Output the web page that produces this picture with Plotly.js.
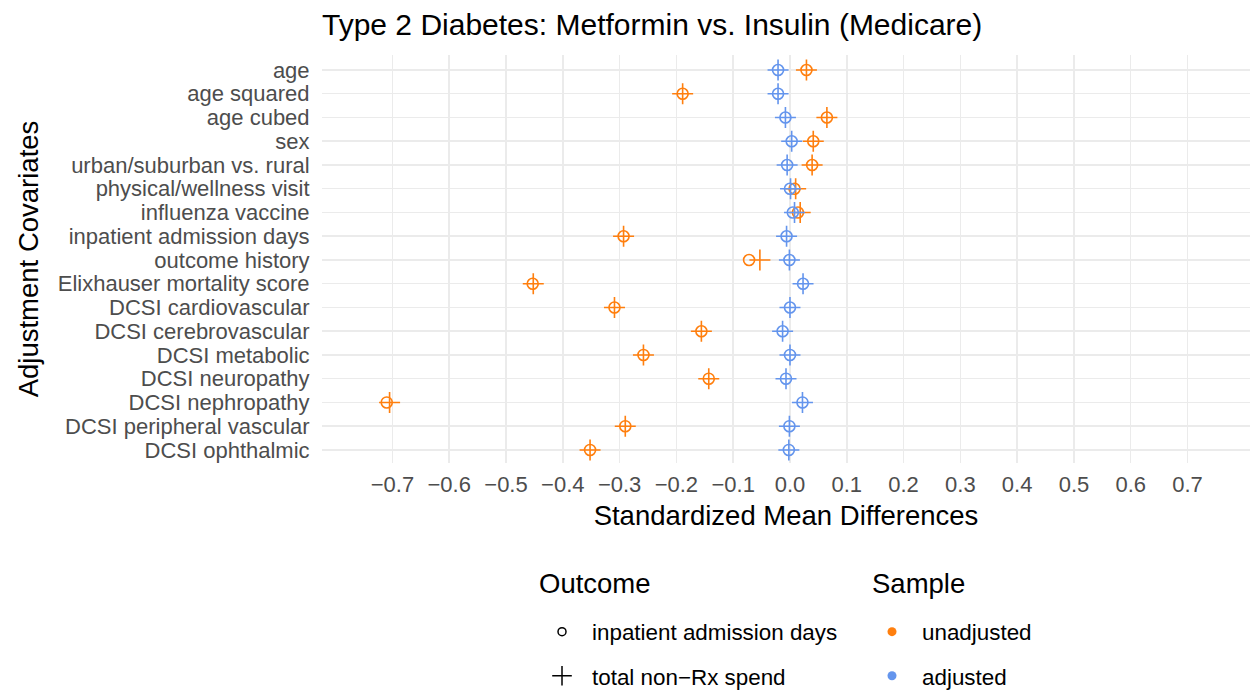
<!DOCTYPE html>
<html>
<head>
<meta charset="utf-8">
<script src="https://cdn.plot.ly/plotly-3.0.1.min.js"></script>
<style>html,body{margin:0;padding:0;background:#fff;}#chart{width:1253px;height:690px;}</style>
</head>
<body>
<div id="chart"></div>
<script>
// Data
var covariates = ["age", "age squared", "age cubed", "sex", "urban/suburban vs. rural",
  "physical/wellness visit", "influenza vaccine", "inpatient admission days", "outcome history",
  "Elixhauser mortality score", "DCSI cardiovascular", "DCSI cerebrovascular", "DCSI metabolic",
  "DCSI neuropathy", "DCSI nephropathy", "DCSI peripheral vascular", "DCSI ophthalmic"];
var unadjDays  = [0.029, -0.189, 0.065, 0.041, 0.039, 0.008, 0.014, -0.293, -0.072, -0.453, -0.309, -0.156, -0.258, -0.143, -0.710, -0.290, -0.352];
var unadjSpend = [0.029, -0.189, 0.065, 0.041, 0.039, 0.010, 0.018, -0.293, -0.053, -0.452, -0.309, -0.156, -0.258, -0.143, -0.705, -0.290, -0.352];
var adjDays    = [-0.021, -0.021, -0.008, 0.003, -0.005, 0.000, 0.005, -0.006, -0.001, 0.023, 0.000, -0.013, 0.000, -0.007, 0.022, -0.001, -0.002];
var adjSpend   = [-0.021, -0.021, -0.008, 0.003, -0.005, 0.001, 0.008, -0.006, -0.001, 0.023, 0.000, -0.013, 0.000, -0.007, 0.022, -0.001, -0.002];
var xTicks = [-0.7, -0.6, -0.5, -0.4, -0.3, -0.2, -0.1, 0.0, 0.1, 0.2, 0.3, 0.4, 0.5, 0.6, 0.7];
var xTickText = xTicks.map(function(v){ return (v < 0 ? "\u2212" : "") + Math.abs(v).toFixed(1); });
var threshold = 0.1;
var outcomeNames = ["inpatient admission days", "total non\u2212Rx spend"];
var sampleNames = ["unadjusted", "adjusted"];

var ORANGE = "#FF7F0E", BLUE = "#6495ED";
var FONT = "Liberation Sans, Arial, sans-serif";

function pts(x, color, symbol, size) {
  return {
    type: "scatter", mode: "markers", x: x, y: covariates, showlegend: false, hoverinfo: "x+y",
    cliponaxis: false,
    marker: {symbol: symbol, size: size, color: color, line: {color: color, width: 1.6}}
  };
}

var traces = [
  pts(unadjDays, ORANGE, "circle-open", 11),
  pts(unadjSpend, ORANGE, "cross-thin-open", 15),
  pts(adjDays, BLUE, "circle-open", 11),
  pts(adjSpend, BLUE, "cross-thin-open", 15),
  // legend entries
  {type: "scatter", mode: "markers", x: [null], y: [null], name: outcomeNames[0],
   legend: "legend", legendgroup: "o1",
   marker: {symbol: "circle-open", size: 8, color: "#000", line: {color: "#000", width: 1.5}}},
  {type: "scatter", mode: "markers", x: [null], y: [null], name: outcomeNames[1],
   legend: "legend", legendgroup: "o2",
   marker: {symbol: "cross-thin-open", size: 14, color: "#000", line: {color: "#000", width: 1.5}}},
  {type: "scatter", mode: "markers", x: [null], y: [null], name: sampleNames[0],
   legend: "legend2", legendgroup: "s1",
   marker: {symbol: "circle", size: 9, color: ORANGE}},
  {type: "scatter", mode: "markers", x: [null], y: [null], name: sampleNames[1],
   legend: "legend2", legendgroup: "s2",
   marker: {symbol: "circle", size: 9, color: BLUE}}
];

var layout = {
  width: 1253, height: 690,
  margin: {l: 322, r: 3, t: 55, b: 227, autoexpand: false},
  paper_bgcolor: "#fff", plot_bgcolor: "#fff",
  font: {family: FONT, color: "#000"},
  title: {text: "Type 2 Diabetes: Metformin vs. Insulin (Medicare)", font: {size: 30, color: "#000", family: FONT},
          xref: "paper", x: 0, xanchor: "left", yref: "container", y: 0.964, yanchor: "middle"},
  xaxis: {
    range: [-0.824, 0.81], tickmode: "array", tickvals: xTicks, ticktext: xTickText, showgrid: true,
    gridcolor: "#ebebeb", gridwidth: 1.5, zeroline: false, showline: false,
    ticks: "outside", ticklen: 2, tickcolor: "rgba(0,0,0,0)",
    tickfont: {size: 22, color: "#4d4d4d", family: FONT},
    title: {text: "Standardized Mean Differences", font: {size: 27.5, color: "#000", family: FONT}, standoff: 9},
    fixedrange: true
  },
  yaxis: {
    type: "category", categoryorder: "array", categoryarray: covariates,
    tickmode: "array", tickvals: covariates, ticktext: covariates,
    range: [16.55, -0.63], showgrid: true, gridcolor: "#ebebeb", gridwidth: 1.5,
    zeroline: false, showline: false, ticks: "outside", ticklen: 7, tickcolor: "rgba(0,0,0,0)",
    tickfont: {size: 22, color: "#4d4d4d", family: FONT},
    title: {text: "Adjustment Covariates", font: {size: 27.5, color: "#000", family: FONT}, standoff: 11},
    fixedrange: true
  },
  shapes: [
    {type: "line", xref: "x", yref: "paper", x0: 0, x1: 0, y0: 0, y1: 1, line: {color: "#000", width: 1.2}, layer: "below"},
    {type: "line", xref: "x", yref: "paper", x0: -threshold, x1: -threshold, y0: 0, y1: 1, line: {color: "#000", width: 1.2, dash: "dash"}, layer: "below"},
    {type: "line", xref: "x", yref: "paper", x0: threshold, x1: threshold, y0: 0, y1: 1, line: {color: "#000", width: 1.2, dash: "dash"}, layer: "below"}
  ],
  annotations: [
    {text: "Outcome", xref: "paper", yref: "paper", x: 0.2317, y: -0.295, xanchor: "left", yanchor: "middle",
     showarrow: false, font: {size: 27.5, color: "#000", family: FONT}},
    {text: "Sample", xref: "paper", yref: "paper", x: 0.5906, y: -0.295, xanchor: "left", yanchor: "middle",
     showarrow: false, font: {size: 27.5, color: "#000", family: FONT}}
  ],
  legend: {
    font: {size: 22.4, color: "#000", family: FONT}, itemwidth: 50,
    orientation: "v", x: 0.2263, xanchor: "left", y: -0.3617, yanchor: "top",
    traceorder: "grouped", tracegroupgap: 12, bgcolor: "rgba(0,0,0,0)"
  },
  legend2: {
    font: {size: 22.4, color: "#000", family: FONT}, itemwidth: 50,
    orientation: "v", x: 0.5819, xanchor: "left", y: -0.3617, yanchor: "top",
    traceorder: "grouped", tracegroupgap: 12, bgcolor: "rgba(0,0,0,0)"
  },
  showlegend: true
};

Plotly.newPlot("chart", traces, layout, {displayModeBar: false, staticPlot: true});
</script>
</body>
</html>
